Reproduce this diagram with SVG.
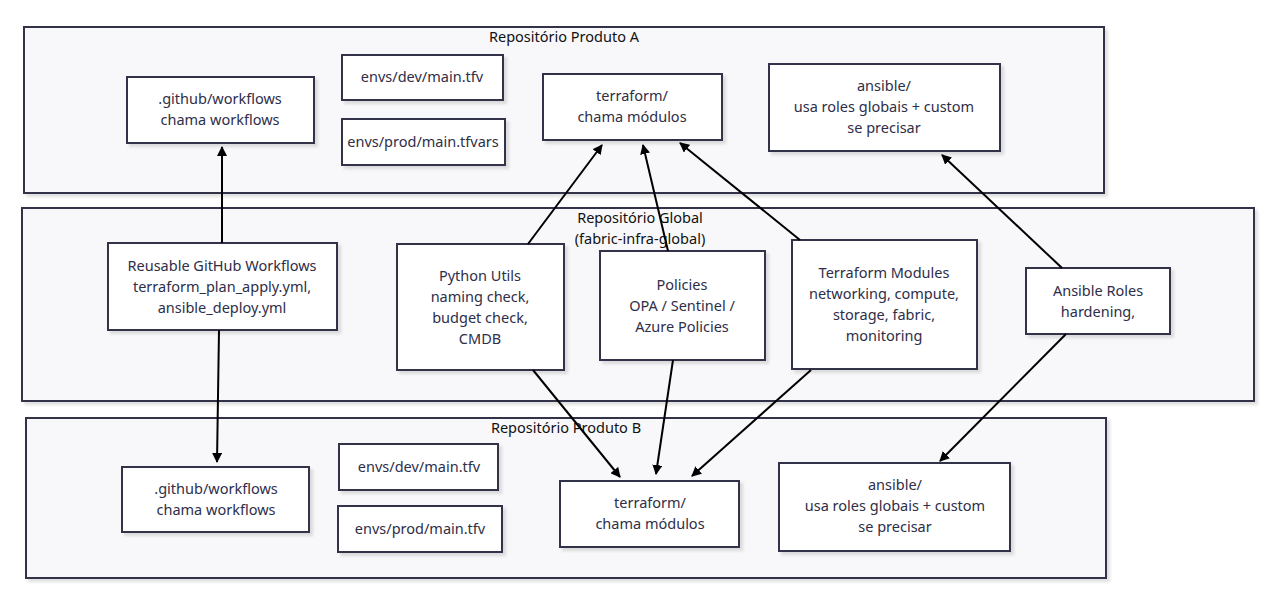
<svg xmlns="http://www.w3.org/2000/svg" width="1280" height="600" viewBox="0 0 1280 600">
<defs>
<marker id="arr" viewBox="0 0 10 10" refX="9" refY="5" markerWidth="5" markerHeight="5" markerUnits="strokeWidth" orient="auto">
<path d="M0,0 L10,5 L0,10 z" fill="#000"/>
</marker>
<filter id="sh" x="-10%" y="-10%" width="130%" height="130%">
<feDropShadow dx="3" dy="3" stdDeviation="1.5" flood-color="#000" flood-opacity="0.12"/>
</filter>
</defs>
<style>
.cl{fill:#f8f8fa;stroke:#33334a;stroke-width:2;filter:url(#sh)}
.nd{fill:#fff;stroke:#33334a;stroke-width:2;filter:url(#sh)}
text{font-family:"Noto Sans","Liberation Sans",sans-serif;font-size:14.5px;fill:#2e2e48;text-anchor:middle}
.t{fill:#111}
.e{fill:none;stroke:#000;stroke-width:2;marker-end:url(#arr)}
</style>
<rect width="1280" height="600" fill="#fff"/>
<g id="clusterA">
<rect class="cl" x="24" y="27" width="1080" height="166"/>
<text class="t" x="564" y="42">Repositório Produto A</text>
</g>
<g id="clusterG">
<rect class="cl" x="22" y="208" width="1232" height="193"/>
<text class="t" x="640" y="223">Repositório Global</text>
<text class="t" x="640" y="244">(fabric-infra-global)</text>
</g>
<g id="clusterB">
<rect class="cl" x="26" y="418" width="1080" height="160"/>
<text class="t" x="566" y="433">Repositório Produto B</text>
</g>
<g id="A_gh"><rect class="nd" x="127" y="77" width="187" height="66"/><text x="220" y="104">.github/workflows</text><text x="220" y="125">chama workflows</text></g>
<g id="A_dev"><rect class="nd" x="342" y="55" width="161" height="45"/><text x="422" y="82">envs/dev/main.tfv</text></g>
<g id="A_prod"><rect class="nd" x="342" y="119" width="163" height="46"/><text x="423" y="147">envs/prod/main.tfvars</text></g>
<g id="A_tf"><rect class="nd" x="543" y="74" width="179" height="66"/><text x="632" y="101">terraform/</text><text x="632" y="122">chama módulos</text></g>
<g id="A_ans"><rect class="nd" x="769" y="64" width="231" height="87"/><text x="884" y="91">ansible/</text><text x="884" y="112">usa roles globais + custom</text><text x="884" y="133">se precisar</text></g>
<g id="G_wf"><rect class="nd" x="108" y="243" width="229" height="87"/><text x="222" y="271">Reusable GitHub Workflows</text><text x="222" y="292">terraform_plan_apply.yml,</text><text x="222" y="313">ansible_deploy.yml</text></g>
<g id="G_py"><rect class="nd" x="397" y="244" width="167" height="126"/><text x="480" y="281">Python Utils</text><text x="480" y="302">naming check,</text><text x="480" y="323">budget check,</text><text x="480" y="344">CMDB</text></g>
<g id="G_pol"><rect class="nd" x="600" y="251" width="165" height="109"/><text x="682" y="290">Policies</text><text x="682" y="311">OPA / Sentinel /</text><text x="682" y="332">Azure Policies</text></g>
<g id="G_tfm"><rect class="nd" x="792" y="240" width="185" height="129"/><text x="884" y="278">Terraform Modules</text><text x="884" y="299">networking, compute,</text><text x="884" y="320">storage, fabric,</text><text x="884" y="341">monitoring</text></g>
<g id="G_ans"><rect class="nd" x="1026" y="268" width="144" height="66"/><text x="1098" y="296">Ansible Roles</text><text x="1098" y="317">hardening,</text></g>
<g id="B_gh"><rect class="nd" x="122" y="467" width="187" height="65"/><text x="216" y="494">.github/workflows</text><text x="216" y="515">chama workflows</text></g>
<g id="B_dev"><rect class="nd" x="339" y="444" width="159" height="46"/><text x="419" y="472">envs/dev/main.tfv</text></g>
<g id="B_prod"><rect class="nd" x="338" y="506" width="164" height="46"/><text x="420" y="534">envs/prod/main.tfv</text></g>
<g id="B_tf"><rect class="nd" x="560" y="481" width="179" height="66"/><text x="650" y="508">terraform/</text><text x="650" y="529">chama módulos</text></g>
<g id="B_ans"><rect class="nd" x="779" y="463" width="231" height="88"/><text x="895" y="490">ansible/</text><text x="895" y="511">usa roles globais + custom</text><text x="895" y="532">se precisar</text></g>
<g id="edges">
<path class="e" d="M222,243 L222,147"/>
<path class="e" d="M219,330 L217,462"/>
<path class="e" d="M528,244 L602,145"/>
<path class="e" d="M668,251 L643,145"/>
<path class="e" d="M800,240 L680,143"/>
<path class="e" d="M1062,268 L942,155"/>
<path class="e" d="M533,370 L620,477"/>
<path class="e" d="M673,360 L656,474"/>
<path class="e" d="M811,370 L692,476"/>
<path class="e" d="M1066,334 L940,461"/>
</g>
</svg>
